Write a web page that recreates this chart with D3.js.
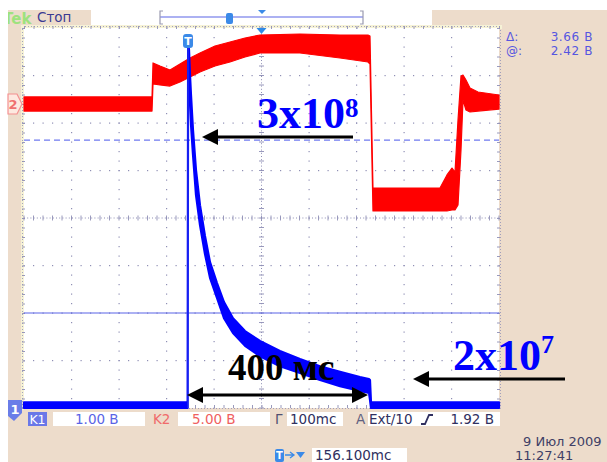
<!DOCTYPE html>
<html><head><meta charset="utf-8">
<script src="https://cdn.jsdelivr.net/npm/d3@7"></script>
<style>body{margin:0;background:#fff}svg{display:block}</style>
</head><body>
<svg id="c" width="607" height="462"></svg>
<script>
// ---- data (time in ms, 100 ms/div; ch1 1 V/div, ch2 5 V/div) ----
const ch1Time = [0, 344.5, 345.5, 347.4, 349.5, 351.6, 355.8, 362.1, 370.5, 381, 391.6, 406.3, 421, 440, 465.3, 496.8, 538.9, 581, 623.2, 665.3, 707.4, 726.3, 728.4, 730.5, 1000];
const ch1High = [0.12, 0.12, 7.71, 7.54, 7.01, 6.59, 5.85, 5.01, 4.27, 3.62, 3.07, 2.63, 2.23, 1.89, 1.62, 1.41, 1.20, 1.03, 0.88, 0.76, 0.65, 0.61, 0.59, 0.12, 0.12];
const ch1Low  = [0.0, 0.0, 7.49, 7.12, 6.48, 5.96, 5.33, 4.48, 3.85, 3.24, 2.74, 2.32, 1.89, 1.58, 1.31, 1.09, 0.88, 0.74, 0.59, 0.46, 0.36, 0.32, 0.17, 0.0, 0.0];

const ch2Time = [0, 269.5, 271.6, 286.3, 307.4, 328.4, 349.5, 370.5, 402.1, 433.7, 465.3, 496.8, 581, 665.3, 724.2, 728.4, 734.7, 875.8, 890.5, 901, 907.4, 913.7, 920, 924.2, 930.5, 938.9, 955.8, 1000];
const ch2High = [0.74, 0.74, 4.32, 4.0, 3.58, 4.21, 4.84, 5.37, 6.11, 6.53, 6.95, 7.26, 7.37, 7.26, 7.26, 7.16, -8.84, -8.84, -7.47, -6.74, -7.16, -1.68, 2.95, 3.05, 2.53, 1.68, 1.26, 0.95];
const ch2Low  = [-0.74, -0.74, 2.11, 2.0, 1.89, 2.32, 2.84, 3.37, 4.0, 4.42, 4.95, 5.37, 5.37, 4.84, 4.42, 4.21, -11.26, -11.26, -11.26, -11.16, -11.16, -10.63, -4.84, 0.42, -0.63, -0.84, -0.74, -0.53];

const cursorVolts = [5.64, 2.0];     // ch1 horizontal cursors
const triggerTime = 345.3;           // vertical cursor
const centerTime = 500;

const annotations = [
  {main: "3x10", sup: "8"},
  {main: "2x10", sup: "7"}
];
const durationLabel = "400 мс";
const readouts = {delta: "3.66 B", at: "2.42 B"};
const chanLabels = ["K1", "K2"];
const chanScales = ["1.00 B", "5.00 B"];
const timeScale = "100mc";
const trigSrc = "Ext/10";
const trigLevel = "1.92 B";
const trigPos = "156.100mc";
const dateStr = "9 Июл 2009";
const timeStr = "11:27:41";
const status = "Стоп";

// ---- layout ----
const X0 = 24, X1 = 499, Y0 = 28, Y1 = 408;
const svg = d3.select("#c");
const x = d3.scaleLinear().domain([0, 1000]).range([X0, X1]);
const y1 = d3.scaleLinear().domain([0, 8]).range([Y1, Y0]);
const y2 = d3.scaleLinear().domain([-32, 8]).range([Y1, Y0]);
const beige = "#EDDCCB";
const sans = "DejaVu Sans, Verdana, sans-serif";
const serif = "Liberation Serif, Times New Roman, serif";

// backgrounds
svg.append("rect").attr("x", 0).attr("y", 0).attr("width", 607).attr("height", 462).attr("fill", "#fff");
svg.append("rect").attr("x", 8).attr("y", 28).attr("width", 599).attr("height", 434).attr("fill", beige);
svg.append("rect").attr("x", 8).attr("y", 10).attr("width", 83).attr("height", 18).attr("fill", beige);
svg.append("rect").attr("x", 432).attr("y", 10).attr("width", 175).attr("height", 20).attr("fill", beige);
svg.append("rect").attr("x", 91).attr("y", 10).attr("width", 341).attr("height", 15).attr("fill", "#fff");
// pale ruler strips
svg.append("rect").attr("x", 22).attr("y", 25).attr("width", 480).attr("height", 4).attr("fill", "#F6F2D6");
svg.append("rect").attr("x", 21).attr("y", 25).attr("width", 3).attr("height", 385).attr("fill", "#F6F2D6");
// plot area
svg.append("rect").attr("x", X0).attr("y", Y0).attr("width", X1 - X0).attr("height", Y1 - Y0).attr("fill", "#fff");

// grid
const g = svg.append("g");
const gridCol = "#8f8fb5";
const majorT = d3.range(0, 1001, 100);
const majorV = d3.range(0, 8.01, 1);
const minorT = d3.range(0, 1001, 20);
const minorV = d3.range(0, 8.01, 0.2);
majorT.forEach(t => {
  if (t === 0 || t === 1000 || t === 500) return;
  minorV.forEach(v => g.append("rect").attr("x", x(t) - 0.5).attr("y", y1(v) - 0.5).attr("width", 1.2).attr("height", 1.2).attr("fill", gridCol));
});
majorV.forEach(v => {
  if (v === 0 || v === 8 || v === 4) return;
  minorT.forEach(t => g.append("rect").attr("x", x(t) - 0.5).attr("y", y1(v) - 0.5).attr("width", 1.2).attr("height", 1.2).attr("fill", gridCol));
});
// center lines
g.append("line").attr("x1", X0).attr("x2", X1).attr("y1", y1(4)).attr("y2", y1(4))
  .attr("stroke", gridCol).attr("stroke-dasharray", "1,2.2").attr("stroke-width", 1);
g.append("line").attr("x1", x(500)).attr("x2", x(500)).attr("y1", Y0).attr("y2", Y1)
  .attr("stroke", gridCol).attr("stroke-dasharray", "1,2.2").attr("stroke-width", 1);
minorT.forEach(t => g.append("line").attr("x1", x(t)).attr("x2", x(t)).attr("y1", y1(4) - 2.5).attr("y2", y1(4) + 2.5).attr("stroke", gridCol).attr("stroke-width", 0.9));
minorV.forEach(v => g.append("line").attr("y1", y1(v)).attr("y2", y1(v)).attr("x1", x(500) - 2.5).attr("x2", x(500) + 2.5).attr("stroke", gridCol).attr("stroke-width", 0.9));

// edge rulers with d3 axes
const axTop = d3.axisBottom(x).tickValues(minorT).tickSize(3).tickFormat("");
const axBot = d3.axisTop(x).tickValues(minorT).tickSize(3).tickFormat("");
const axL = d3.axisRight(y1).tickValues(minorV).tickSize(3).tickFormat("");
const axR = d3.axisLeft(y1).tickValues(minorV).tickSize(3).tickFormat("");
[[axTop, `translate(0,${Y0 - 2})`], [axBot, `translate(0,${Y1})`], [axL, `translate(${X0 - 2},0)`], [axR, `translate(${X1 + 1},0)`]].forEach(([a, tr]) => {
  const ga = svg.append("g").attr("transform", tr).call(a);
  ga.select(".domain").attr("stroke", gridCol).attr("stroke-dasharray", "1,2").attr("stroke-width", 0.8);
  ga.selectAll(".tick line").attr("stroke", gridCol).attr("stroke-width", 0.9);
});

// horizontal cursors
svg.append("line").attr("x1", X0).attr("x2", X1).attr("y1", y1(cursorVolts[0])).attr("y2", y1(cursorVolts[0]))
  .attr("stroke", "#6f7af0").attr("stroke-width", 1.3).attr("stroke-dasharray", "6,4");
svg.append("line").attr("x1", X0).attr("x2", X1).attr("y1", y1(cursorVolts[1])).attr("y2", y1(cursorVolts[1]))
  .attr("stroke", "#5a64e8").attr("stroke-width", 1.2);

// traces
const red = ch2Time.map((t, i) => ({t, hi: ch2High[i], lo: ch2Low[i]}));
const blue = ch1Time.map((t, i) => ({t, hi: ch1High[i], lo: ch1Low[i]}));
svg.append("path").datum(red)
  .attr("d", d3.area().x(d => x(d.t)).y0(d => y2(d.lo)).y1(d => y2(d.hi)))
  .attr("fill", "#ff0000").attr("stroke", "#ff0000").attr("stroke-width", 1.2).attr("stroke-linejoin", "round");
svg.append("path").datum(blue)
  .attr("d", d3.area().x(d => x(d.t)).y0(d => y1(d.lo)).y1(d => y1(d.hi)))
  .attr("fill", "#0000ff").attr("stroke", "#0000ff").attr("stroke-width", 2.2).attr("stroke-linejoin", "round");

// vertical cursor + marker
const xc = x(triggerTime);
svg.append("line").attr("x1", xc).attr("x2", xc).attr("y1", 44).attr("y2", Y1).attr("stroke", "#2a3ae6").attr("stroke-width", 1.1);
svg.append("rect").attr("x", xc - 5).attr("y", 34).attr("width", 10).attr("height", 14).attr("rx", 3).attr("fill", "#3b8ae8");
svg.append("text").attr("x", xc).attr("y", 45).attr("text-anchor", "middle").attr("font-family", sans).attr("font-size", 11).attr("font-weight", "bold").attr("fill", "#fff").text("T");
// trigger position triangle
const xm = x(centerTime);
svg.append("path").attr("d", `M${xm - 5},${Y0}L${xm + 5},${Y0}L${xm},${Y0 + 6}Z`).attr("fill", "#2e8ae6");

// left markers
svg.append("path").attr("d", `M8,${y2(0) - 10}L17,${y2(0) - 10}L22,${y2(0)}L17,${y2(0) + 10}L8,${y2(0) + 10}Z`)
  .attr("fill", "#fde9e0").attr("stroke", "#f49090").attr("stroke-width", 1.2);
svg.append("text").attr("x", 13).attr("y", y2(0) + 5).attr("text-anchor", "middle").attr("font-family", sans).attr("font-size", 13).attr("font-weight", "bold").attr("fill", "#f07070").text("2");
svg.append("path").attr("d", `M8,${y1(0) - 8}L22,${y1(0) - 8}L22,${y1(0) + 5}L14,${y1(0) + 13}L8,${y1(0) + 8}Z`).attr("fill", "#6a7de8");
svg.append("text").attr("x", 15).attr("y", y1(0) + 6).attr("text-anchor", "middle").attr("font-family", sans).attr("font-size", 13).attr("font-weight", "bold").attr("fill", "#fff").text("1");

// top position bar
svg.append("line").attr("x1", 160).attr("x2", 363).attr("y1", 17).attr("y2", 17).attr("stroke", "#5a64e6").attr("stroke-width", 1.2);
svg.append("path").attr("d", "M163,11L160,11L160,24L163,24M360,11L363,11L363,24L360,24").attr("fill", "none").attr("stroke", "#9a9ab0").attr("stroke-width", 1.2);
svg.append("rect").attr("x", 226).attr("y", 13).attr("width", 7).attr("height", 11).attr("rx", 2).attr("fill", "#3b8ae8");
svg.append("path").attr("d", "M258,10L266,10L262,14Z").attr("fill", "#3b8ae8");

// top-left status
svg.append("clipPath").attr("id", "tk").append("rect").attr("x", 8).attr("y", 10).attr("width", 26).attr("height", 18);
svg.append("text").attr("x", 3).attr("y", 24).attr("clip-path", "url(#tk)").attr("font-family", sans).attr("font-size", 15).attr("font-weight", "bold").attr("fill", "#9ee27e").text("Tek");
svg.append("text").attr("x", 37).attr("y", 22).attr("font-family", sans).attr("font-size", 13.5).attr("fill", "#3a3a92").text(status);

// top-right readouts
const rc = "#5656e0";
[["Δ:", readouts.delta, 41], ["@:", readouts.at, 55]].forEach(([lab, val, by]) => {
  svg.append("text").attr("x", 506).attr("y", by).attr("font-family", sans).attr("font-size", 12).attr("fill", rc).text(lab);
  svg.append("text").attr("x", 593).attr("y", by).attr("text-anchor", "end").attr("font-family", sans).attr("font-size", 12).attr("letter-spacing", 0.6).attr("fill", rc).text(val);
});

// bottom status row
const rowY = 424;
svg.append("rect").attr("x", 28).attr("y", 412).attr("width", 19).attr("height", 14).attr("fill", "#6a78e8");
svg.append("text").attr("x", 37.5).attr("y", rowY).attr("text-anchor", "middle").attr("font-family", sans).attr("font-size", 12.5).attr("fill", "#fff").text(chanLabels[0]);
[[53, 92], [178, 92], [287, 56], [368, 132], [312, 95]].forEach(([bx, bw], i) => {
  svg.append("rect").attr("x", bx).attr("y", i === 4 ? 448 : 412).attr("width", bw).attr("height", 14).attr("fill", "#fff");
});
svg.append("text").attr("x", 75).attr("y", rowY).attr("font-family", sans).attr("font-size", 13.5).attr("fill", "#5a64e6").text(chanScales[0]);
svg.append("text").attr("x", 153).attr("y", rowY).attr("font-family", sans).attr("font-size", 13.5).attr("fill", "#f06a6a").text(chanLabels[1]);
svg.append("text").attr("x", 192).attr("y", rowY).attr("font-family", sans).attr("font-size", 13.5).attr("fill", "#f06060").text(chanScales[1]);
svg.append("text").attr("x", 275).attr("y", rowY).attr("font-family", sans).attr("font-size", 13.5).attr("fill", "#505072").text("Г");
svg.append("text").attr("x", 290).attr("y", rowY).attr("font-family", sans).attr("font-size", 13.5).attr("fill", "#303060").text(timeScale);
svg.append("text").attr("x", 356).attr("y", rowY).attr("font-family", sans).attr("font-size", 13.5).attr("fill", "#606080").text("A");
svg.append("text").attr("x", 369).attr("y", rowY).attr("font-family", sans).attr("font-size", 13.5).attr("fill", "#303060").text(trigSrc);
svg.append("path").attr("d", `M421,${rowY}L425,${rowY}L429,${rowY - 9}L433,${rowY - 9}`).attr("fill", "none").attr("stroke", "#303060").attr("stroke-width", 1.8);
svg.append("text").attr("x", 494).attr("y", rowY).attr("text-anchor", "end").attr("font-family", sans).attr("font-size", 13.5).attr("fill", "#303060").text(trigLevel);

// trigger position row
svg.append("rect").attr("x", 275).attr("y", 449).attr("width", 9).attr("height", 13).attr("rx", 2).attr("fill", "#3b8ae8");
svg.append("text").attr("x", 279.5).attr("y", 459).attr("text-anchor", "middle").attr("font-family", sans).attr("font-size", 10).attr("font-weight", "bold").attr("fill", "#fff").text("T");
svg.append("path").attr("d", "M285,455L293,455M290,452L294,455L290,458").attr("fill", "none").attr("stroke", "#3b8ae8").attr("stroke-width", 1.3);
svg.append("path").attr("d", "M296,452L305,452L300.5,458Z").attr("fill", "#3b8ae8");
svg.append("text").attr("x", 315).attr("y", 460).attr("font-family", sans).attr("font-size", 13.5).attr("fill", "#303060").text(trigPos);
svg.append("text").attr("x", 523).attr("y", 446).attr("font-family", sans).attr("font-size", 13).attr("fill", "#404066").text(dateStr);
svg.append("text").attr("x", 515).attr("y", 460).attr("font-family", sans).attr("font-size", 13).attr("fill", "#404066").text(timeStr);

// annotations
function arrowHead(tipX, tipY, dir) {
  return `M${tipX},${tipY}L${tipX + dir * 16},${tipY - 8}L${tipX + dir * 16},${tipY + 8}Z`;
}
const ann = svg.append("g");
const a1 = ann.append("text").attr("x", 257).attr("y", 128).attr("font-family", serif).attr("font-weight", "bold").attr("font-size", 44).attr("fill", "#0000ff");
a1.append("tspan").text(annotations[0].main);
a1.append("tspan").attr("dy", -11).attr("font-size", 27).text(annotations[0].sup);
ann.append("line").attr("x1", 353).attr("x2", 214).attr("y1", 137).attr("y2", 137).attr("stroke", "#000").attr("stroke-width", 3);
ann.append("path").attr("d", arrowHead(202, 137, 1)).attr("fill", "#000");

const a2 = ann.append("text").attr("x", 453).attr("y", 370).attr("font-family", serif).attr("font-weight", "bold").attr("font-size", 44).attr("fill", "#0000ff");
a2.append("tspan").text(annotations[1].main);
a2.append("tspan").attr("dy", -17).attr("font-size", 26).text(annotations[1].sup);
ann.append("line").attr("x1", 565).attr("x2", 425).attr("y1", 379).attr("y2", 379).attr("stroke", "#000").attr("stroke-width", 3);
ann.append("path").attr("d", arrowHead(413, 379, 1)).attr("fill", "#000");

ann.append("text").attr("x", 228).attr("y", 380).attr("font-family", serif).attr("font-weight", "bold").attr("font-size", 37).attr("fill", "#000").text(durationLabel);
ann.append("line").attr("x1", 198).attr("x2", 357).attr("y1", 395).attr("y2", 395).attr("stroke", "#000").attr("stroke-width", 3);
ann.append("path").attr("d", arrowHead(187, 395, 1)).attr("fill", "#000");
ann.append("path").attr("d", arrowHead(368, 395, -1)).attr("fill", "#000");
</script>
</body></html>
